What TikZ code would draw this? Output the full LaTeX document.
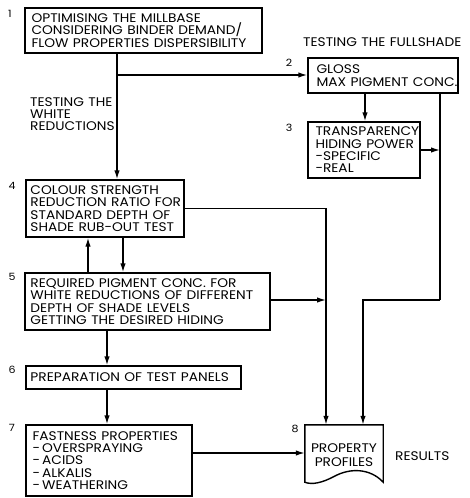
\documentclass[tikz,border=0pt]{standalone}
\usepackage{fontspec}
\setmainfont{Poppins}[FakeStretch=1.10,WordSpace=1.2]
\usetikzlibrary{arrows.meta}
\begin{document}
\begin{tikzpicture}[x=1pt,y=-1pt,
  box/.style={draw,line width=1.4pt,inner sep=0pt},
  txt/.style={anchor=west,inner sep=0pt,align=left,font=\fontsize{12.5}{12.3}\selectfont},
  lbl/.style={font=\fontsize{12.5}{12.3}\selectfont,inner sep=0pt},
  num/.style={font=\fontsize{10}{11}\selectfont,inner sep=0pt},
  arr/.style={line width=1.4pt,-{Latex[length=9pt,width=5.5pt]}},
  ln/.style={line width=1.4pt}]
\useasboundingbox (0,0) rectangle (469,498);
% boxes
\node[box,minimum width=237pt,minimum height=45pt] (b1) at (143.5,30.5) {};
\node[txt] (t1) at ([xshift=7pt]b1.west)
  {OPTIMISING THE MILLBASE\\CONSIDERING BINDER DEMAND/\\FLOW PROPERTIES DISPERSIBILITY};
\node[box,minimum width=150pt,minimum height=35pt] (b2) at (383,75.5) {};
\node[txt] (t2) at ([xshift=9pt]b2.west) {GLOSS\\MAX PIGMENT CONC.};
\node[box,minimum width=112pt,minimum height=56pt] (b3) at (364,150) {};
\node[txt] (t3) at ([xshift=8pt]b3.west) {TRANSPARENCY\\HIDING POWER\\-SPECIFIC\\-REAL};
\node[box,minimum width=158pt,minimum height=57pt] (b4) at (105,208.5) {};
\node[txt] (t4) at ([xshift=5pt]b4.west)
  {COLOUR STRENGTH\\REDUCTION RATIO FOR\\STANDARD DEPTH OF\\SHADE RUB-OUT TEST};
\node[box,minimum width=245pt,minimum height=57pt] (b5) at (147.5,301.5) {};
\node[txt] (t5) at ([xshift=6pt]b5.west)
  {REQUIRED PIGMENT CONC. FOR\\WHITE REDUCTIONS OF DIFFERENT\\DEPTH OF SHADE LEVELS\\GETTING THE DESIRED HIDING};
\node[box,minimum width=215pt,minimum height=23pt] (b6) at (133.5,377.5) {};
\node[txt] (t6) at ([xshift=5pt]b6.west) {PREPARATION OF TEST PANELS};
\node[box,minimum width=166pt,minimum height=71pt] (b7) at (109,460.5) {};
\node[txt] (t7) at ([xshift=7pt]b7.west)
  {FASTNESS PROPERTIES\\-\,OVERSPRAYING\\-\,ACIDS\\-\,ALKALIS\\-\,WEATHERING};
\node[inner sep=0pt,minimum width=78pt,minimum height=57pt] (b8) at (344,453.5) {};
\node[inner sep=0pt,align=center,font=\fontsize{12.5}{14.5}\selectfont] (t8) at (344,455) {PROPERTY\\PROFILES};
\draw[ln,line join=miter] (b8.south west) -- (b8.north west) -- (b8.north east) -- (b8.south east)
  .. controls (370,468) and (350,468) .. (335,476)
  .. controls (322,483) and (312,485) .. (b8.south west) -- cycle;
% labels
\node[num] (n1) at (10,14) {1};
\node[num] (n2) at (289,63) {2};
\node[num] (n3) at (289,128) {3};
\node[num] (n4) at (12,186) {4};
\node[num] (n5) at (12,277) {5};
\node[num] (n6) at (12,370) {6};
\node[num] (n7) at (12,428) {7};
\node[num] (n8) at (295,429) {8};
\node[lbl,anchor=west] (tf) at (303,42) {TESTING THE FULLSHADE};
\node[lbl,anchor=west,align=left] (tw) at (30,114) {TESTING THE\\WHITE\\REDUCTIONS};
\node[lbl,anchor=west] (res) at (395,456) {RESULTS};
% junction coordinates
\coordinate (j1) at (117,75);
\coordinate (c1) at (440,300);
\coordinate (c2) at (363,300);
\coordinate (c3) at (326,208.5);
\coordinate (c4) at (0,453);
% connectors
\draw[arr] (j1 |- b1.south) -- (j1 |- b4.north);
\draw[arr] (j1) -- (j1 -| b2.west);
\draw[arr] (b2.south -| 365,0) -- (b3.north -| 365,0);
\draw[ln] (b2.south -| c1) -- (c1);
\draw[arr] (c1) -- (c2) -- (c2 |- b8.north);
\draw[arr] (b3.east) -- (b3.east -| c1);
\draw[arr] (b4.east) -- (c3) -- (c3 |- b8.north);
\draw[arr] (b5.east |- 0,300) -- (c3 |- 0,300);
\draw[arr] (b5.north -| 88,0) -- (b4.south -| 88,0);
\draw[arr] (b4.south -| 123,0) -- (b5.north -| 123,0);
\draw[arr] (b5.south -| 107,0) -- (b6.north -| 107,0);
\draw[arr] (b6.south -| 107,0) -- (b7.north -| 107,0);
\draw[arr] (c4 -| b7.east) -- (c4 -| b8.west);
\end{tikzpicture}
\end{document}
